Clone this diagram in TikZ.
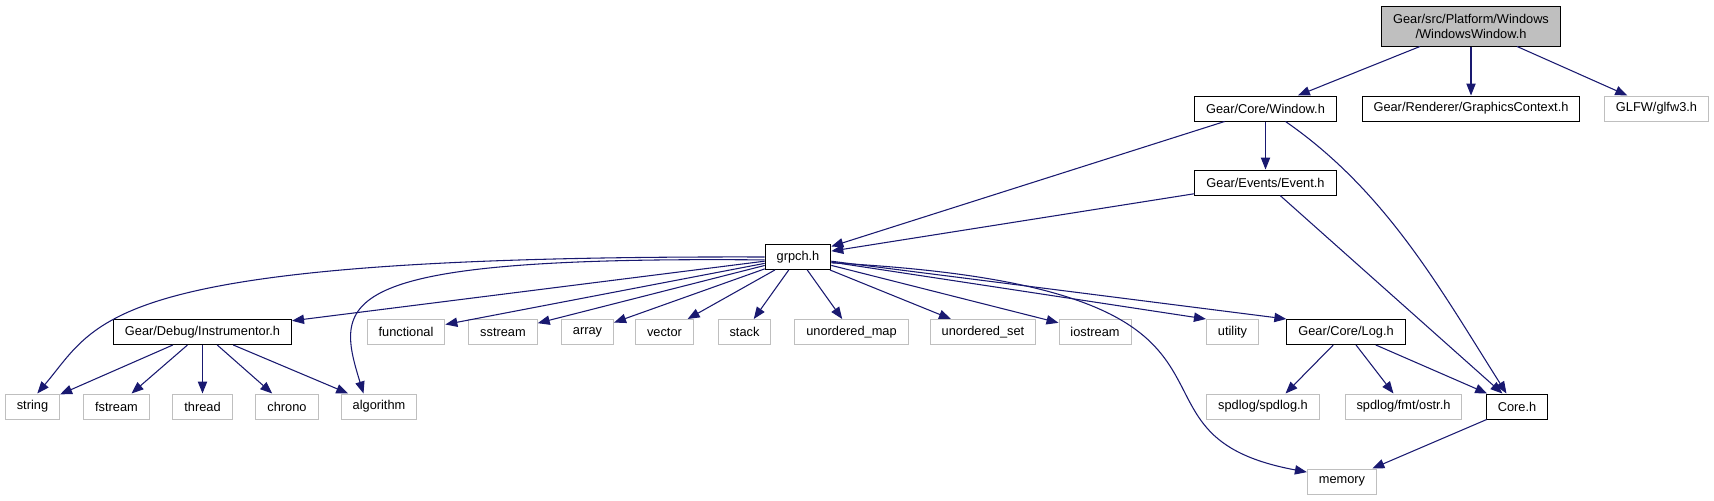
\documentclass[tikz,border=0pt]{standalone}
\usepackage{fontspec}
\setmainfont{Liberation Sans}
\usepackage{xcolor}
\usepackage{tikz}
\usetikzlibrary{arrows.meta}

\definecolor{edgeblue}{HTML}{191970}
\definecolor{extgray}{HTML}{BFBFBF}

\begin{document}
\begin{tikzpicture}[
    x=0.75pt,
    y=-0.75pt,
    >={Triangle[length=9pt, width=7pt]},
    box/.style={rectangle, fill=white, line width=0.75pt, inner xsep=8.6pt,
                inner ysep=0pt, minimum height=18.75pt,
                font=\fontsize{9.6}{11.25}\selectfont},
    docfile/.style={box, draw=black},
    extfile/.style={box, draw=extgray},
    mainfile/.style={box, draw=black, fill=extgray, align=center,
                     minimum height=30pt},
    dep/.style={->, line width=0.8pt, edgeblue},
]
\useasboundingbox (0,0) rectangle (1714,500);

% top rows
\node[mainfile] (root) at (1471,26) {Gear/src/Platform/Windows\\/WindowsWindow.h};
\node[docfile] (win)  at (1265.5,108.5) {Gear/Core/Window.h};
\node[docfile] (gfx)  at (1471,108.5)   {Gear/Renderer/GraphicsContext.h};
\node[extfile] (glfw) at (1656.5,108.5) {GLFW/glfw3.h};
\node[docfile] (evt)  at (1265.5,182.5) {Gear/Events/Event.h};
\node[docfile] (pch)  at (798,257)      {grpch.h};

% headers pulled in by grpch.h
\node[docfile] (instr) at (202.5,332)  {Gear/Debug/Instrumentor.h};
\node[extfile] (func)  at (406,332)    {functional};
\node[extfile] (sstr)  at (503,332)    {sstream};
\node[extfile] (arr)   at (587.5,332)  {array};
\node[extfile] (vec)   at (664.5,332)  {vector};
\node[extfile] (stk)   at (744.5,332)  {stack};
\node[extfile] (umap)  at (851.5,332)  {unordered\_map};
\node[extfile] (uset)  at (983,332)    {unordered\_set};
\node[extfile] (ios)   at (1095,332)   {iostream};
\node[extfile] (util)  at (1232.5,332) {utility};
\node[docfile] (logh)  at (1346,332)   {Gear/Core/Log.h};

% bottom rows
\node[extfile] (str)  at (32.5,406.5)   {string};
\node[extfile] (fstr) at (116.5,406.5)  {fstream};
\node[extfile] (thr)  at (202.5,406.5)  {thread};
\node[extfile] (chr)  at (287,406.5)    {chrono};
\node[extfile] (algo) at (379,406.5)    {algorithm};
\node[extfile] (spd)  at (1263,406.5)   {spdlog/spdlog.h};
\node[extfile] (ostr) at (1403.5,406.5) {spdlog/fmt/ostr.h};
\node[docfile] (core) at (1517,406.5)   {Core.h};
\node[extfile] (mem)  at (1342,481.5)   {memory};

% include edges
\draw[dep] (root) -- (win);
\draw[dep] (root) -- (gfx);
\draw[dep] (root) -- (glfw);
\draw[dep] (win) -- (evt);
\draw[dep] (win) -- (pch);
\draw[dep] (win.-33) .. controls +(101,70) and +(-66,-104) .. (core.129);
\draw[dep] (evt) -- (pch.10);
\draw[dep] (evt) -- (core);

\draw[dep] (pch.west) .. controls +(-665,-2) and +(63,-74) .. (str.70);
\draw[dep] (pch.185) .. controls +(-435,-4) and +(-29,-94) .. (algo.140);
\draw[dep] (pch.-10) .. controls +(480,25) and +(-215,-40) .. (mem.165);
\foreach \t in {instr,func,sstr,arr,vec,stk,umap,uset,ios}
  \draw[dep] (pch) -- (\t);
\draw[dep] (pch) -- (util.north west);
\draw[dep] (pch) -- (logh.north west);

\foreach \t in {str,fstr,thr,chr,algo}
  \draw[dep] (instr) -- (\t);

\draw[dep] (logh) -- (spd.30);
\draw[dep] (logh) -- (ostr);
\draw[dep] (logh) -- (core);
\draw[dep] (core) -- (mem);
\end{tikzpicture}
\end{document}
